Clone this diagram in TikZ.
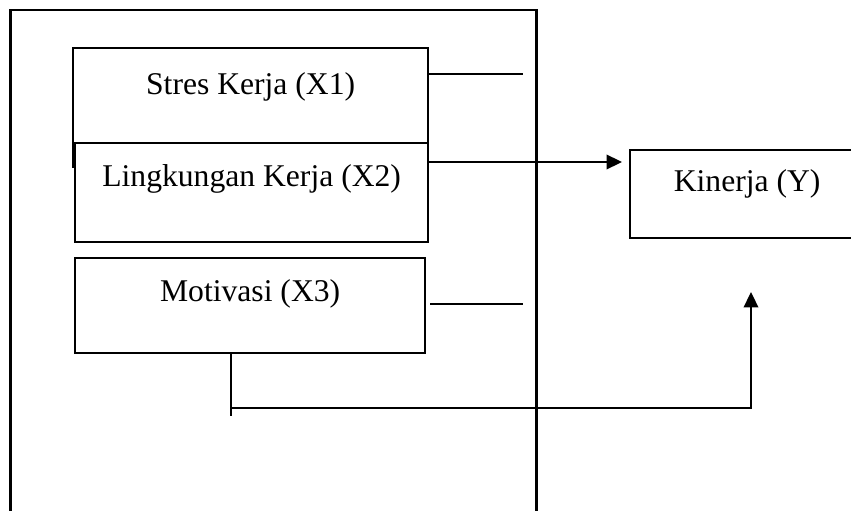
\documentclass[tikz,border=0pt]{standalone}
\usepackage{fontspec}
\setmainfont{Liberation Serif}
\usetikzlibrary{positioning, arrows.meta}
\tikzset{
    >={Triangle[length=3.1mm, width=2.9mm]}, % solid triangle heads
    varbox/.style={
            draw,
            fill=white,
            anchor=north west, % nodes are placed by their top left corner
            inner sep=0pt, % text height/depth set the box height
            font=\fontsize{18pt}{21pt}\selectfont,
        },
}
\begin{document}
\begin{tikzpicture}[line width=1.3pt]
                \useasboundingbox (0,0) rectangle (17.02,-10.22);

                % frame
                \coordinate (fbl) at (0.21,-10.4);
                \coordinate (ftl) at (0.21,-0.2);
                \coordinate (ftr) at (10.73,-0.2);
                \coordinate (fbr) at (10.73,-10.4);
                \draw (fbl) -- (ftl) -- (ftr) -- (fbr);

                % nodes
                \node[varbox, minimum width=7.1cm, minimum height=2.38cm, text height=0.92cm, text depth=1.46cm] (stres) at (1.44,-0.94) {Stres Kerja (X1)};
                \node[varbox, minimum width=7.06cm, minimum height=1.98cm, text height=0.86cm, text depth=1.12cm] (ling) at (1.48,-2.84) {Lingkungan Kerja (X2)};
                \node[varbox, minimum width=7cm, minimum height=1.9cm, text height=0.86cm, text depth=1.04cm] (mot) at (1.48,-5.14) {Motivasi (X3)};
                \node[varbox, minimum width=4.68cm, minimum height=1.76cm, text height=0.82cm, text depth=0.94cm] (kin) at (12.58,-2.98) {Kinerja (Y)};

                % free ends
                \coordinate (s1end) at (10.46,-1.48);
                \coordinate (ltip) at (12.44,-3.24);
                \coordinate (m1end) at (10.46,-6.08);
                \coordinate (mbar) at (4.62,-8.32);
                \coordinate (mcorner) at (15.02,-8.16);
                \coordinate (mtip) at (15.02,-5.84);

                % edges
                \draw (stres.east |- s1end) -- (s1end);
                \draw[->] (ling.east |- ltip) -- (ltip);
                \draw (mot.east |- m1end) ++(0.08,0) -- (m1end);
                \draw (mot.south -| mbar) -- (mbar);
                \draw[->] (mbar |- mcorner) -- (mcorner) -- (mtip);

        \end{tikzpicture}
\end{document}
